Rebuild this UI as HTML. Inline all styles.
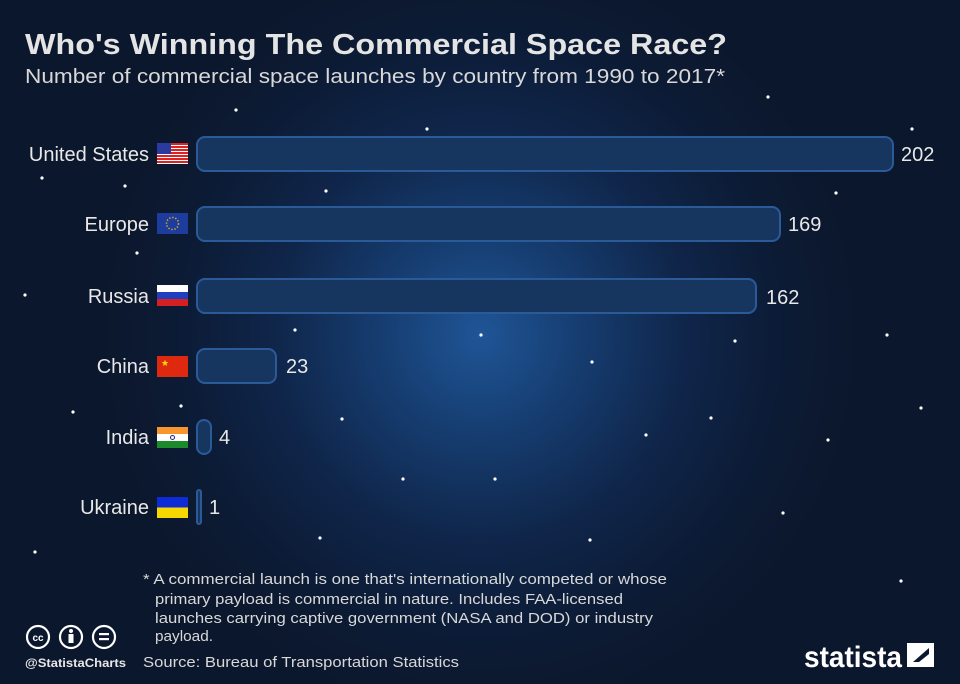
<!DOCTYPE html>
<html><head><meta charset="utf-8"><style>
html,body{margin:0;padding:0;width:960px;height:684px;overflow:hidden;background:#0b1930}
</style></head><body>
<svg width="960" height="684" viewBox="0 0 960 684" xmlns="http://www.w3.org/2000/svg" font-family="Liberation Sans, sans-serif">
<defs>
<radialGradient id="g" cx="480" cy="335" r="380" gradientUnits="userSpaceOnUse">
<stop offset="0" stop-color="#1f5596"/>
<stop offset="0.25" stop-color="#163e72"/>
<stop offset="0.55" stop-color="#0f2549"/>
<stop offset="0.8" stop-color="#0c1b35"/>
<stop offset="1" stop-color="#0b172c"/>
</radialGradient>
</defs>
<rect width="960" height="684" fill="url(#g)"/>
<g fill="#fff">
<circle cx="236" cy="110" r="1.6"/><circle cx="768" cy="97" r="1.6"/><circle cx="427" cy="129" r="1.6"/><circle cx="912" cy="129" r="1.6"/>
<circle cx="42" cy="178" r="1.6"/><circle cx="125" cy="186" r="1.6"/><circle cx="326" cy="191" r="1.6"/><circle cx="836" cy="193" r="1.6"/>
<circle cx="137" cy="253" r="1.6"/><circle cx="25" cy="295" r="1.6"/><circle cx="295" cy="330" r="1.6"/><circle cx="481" cy="335" r="1.6"/>
<circle cx="735" cy="341" r="1.6"/><circle cx="887" cy="335" r="1.6"/><circle cx="592" cy="362" r="1.6"/><circle cx="73" cy="412" r="1.6"/>
<circle cx="181" cy="406" r="1.6"/><circle cx="342" cy="419" r="1.6"/><circle cx="711" cy="418" r="1.6"/><circle cx="921" cy="408" r="1.6"/>
<circle cx="646" cy="435" r="1.6"/><circle cx="828" cy="440" r="1.6"/><circle cx="403" cy="479" r="1.6"/><circle cx="495" cy="479" r="1.6"/>
<circle cx="783" cy="513" r="1.6"/><circle cx="35" cy="552" r="1.6"/><circle cx="320" cy="538" r="1.6"/><circle cx="590" cy="540" r="1.6"/><circle cx="901" cy="581" r="1.6"/>
</g>
<text x="25" y="54" font-size="29" font-weight="bold" fill="#e4e4e4" textLength="702" lengthAdjust="spacingAndGlyphs">Who's Winning The Commercial Space Race?</text>
<text x="25" y="83" font-size="20" fill="#d8d8d8" textLength="700" lengthAdjust="spacingAndGlyphs">Number of commercial space launches by country from 1990 to 2017*</text>

<g fill="#17365f" stroke="#2a5a98" stroke-width="2">
<rect x="197" y="137" width="696" height="34" rx="8"/>
<rect x="197" y="207" width="583" height="34" rx="8"/>
<rect x="197" y="279" width="559" height="34" rx="8"/>
<rect x="197" y="349" width="79" height="34" rx="8"/>
<rect x="197" y="420" width="14" height="34" rx="7"/>
<rect x="197" y="490" width="4" height="34" rx="2"/>
</g>
<g font-size="20" fill="#e8e8e8" text-anchor="end">
<text x="149" y="161">United States</text>
<text x="149" y="231">Europe</text>
<text x="149" y="303">Russia</text>
<text x="149" y="373">China</text>
<text x="149" y="444">India</text>
<text x="149" y="514">Ukraine</text>
</g>
<g font-size="20" fill="#e8e8e8">
<text x="901" y="161">202</text>
<text x="788" y="231">169</text>
<text x="766" y="304">162</text>
<text x="286" y="373">23</text>
<text x="219" y="444">4</text>
<text x="209" y="514">1</text>
</g>
<g>
<rect x="157" y="143" width="31" height="21" fill="#fff"/>
<g fill="#d22">
<rect x="157" y="143" width="31" height="2"/><rect x="157" y="146" width="31" height="2"/><rect x="157" y="149" width="31" height="2"/><rect x="157" y="152" width="31" height="2"/><rect x="157" y="155" width="31" height="2"/><rect x="157" y="158" width="31" height="2"/><rect x="157" y="161" width="31" height="2"/>
</g>
<rect x="157" y="143" width="14" height="11" fill="#2b3a9e"/>
<rect x="157" y="213" width="31" height="21" fill="#1d3c9e"/>
<circle cx="172.5" cy="223.5" r="6" fill="none" stroke="#e8c400" stroke-width="1.5" stroke-dasharray="1.2 1.9"/>
<rect x="157" y="285" width="31" height="7" fill="#fff"/><rect x="157" y="292" width="31" height="7" fill="#1f3fc0"/><rect x="157" y="299" width="31" height="7" fill="#d42020"/>
<rect x="157" y="356" width="31" height="21" fill="#de2910"/><text x="161" y="366" font-size="9" fill="#ffde00">★</text>
<rect x="157" y="427" width="31" height="7" fill="#f7962e"/><rect x="157" y="434" width="31" height="7" fill="#fff"/><rect x="157" y="441" width="31" height="7" fill="#1b8a2a"/>
<circle cx="172.5" cy="437.5" r="2" fill="none" stroke="#1a2a8a" stroke-width="1"/>
<rect x="157" y="497" width="31" height="10.5" fill="#0d2cd6"/><rect x="157" y="507.5" width="31" height="10.5" fill="#f6d800"/>
</g>

<g font-size="15" fill="#d8d8d8">
<text x="143" y="584" textLength="524" lengthAdjust="spacingAndGlyphs">* A commercial launch is one that's internationally competed or whose</text>
<text x="155" y="604" textLength="468" lengthAdjust="spacingAndGlyphs">primary payload is commercial in nature. Includes FAA-licensed</text>
<text x="155" y="623" textLength="498" lengthAdjust="spacingAndGlyphs">launches carrying captive government (NASA and DOD) or industry</text>
<text x="155" y="641" textLength="58" lengthAdjust="spacingAndGlyphs">payload.</text>
<text x="143" y="667" textLength="316" lengthAdjust="spacingAndGlyphs">Source: Bureau of Transportation Statistics</text>
</g>
<g fill="none" stroke="#fff" stroke-width="2.2">
<circle cx="38" cy="637" r="11"/><circle cx="71" cy="637" r="11"/><circle cx="104" cy="637" r="11"/>
</g>
<text x="38" y="641" font-size="10" font-weight="bold" fill="#fff" text-anchor="middle">cc</text>
<circle cx="71" cy="631" r="2" fill="#fff"/><rect x="68.5" y="634" width="5" height="9" fill="#fff"/>
<rect x="99" y="633" width="10" height="2.2" fill="#fff"/><rect x="99" y="638" width="10" height="2.2" fill="#fff"/>
<text x="25" y="667" font-size="11.5" font-weight="bold" fill="#e8e8e8" textLength="101" lengthAdjust="spacingAndGlyphs">@StatistaCharts</text>
<text x="804" y="667" font-size="30" font-weight="bold" fill="#fff" textLength="98" lengthAdjust="spacingAndGlyphs">statista</text>
<rect x="907" y="643" width="27" height="24" fill="#fff"/>
<path d="M913 662 L929 648 L929 654 L919 662 Z" fill="#0b1930"/>
</svg>
</body></html>
